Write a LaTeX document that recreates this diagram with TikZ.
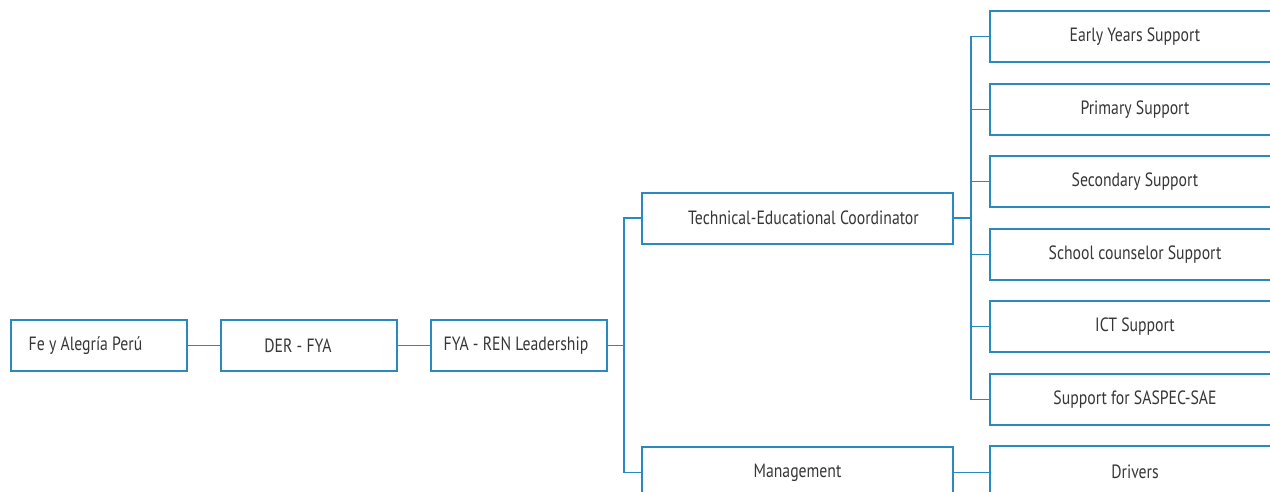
\documentclass[tikz,border=0pt]{standalone}
\usepackage{fontspec}
\newfontfamily\lblfont[FakeStretch=0.82]{PT Sans}
\definecolor{orgblue}{HTML}{2A8AC0}
\definecolor{orgtext}{HTML}{363636}
\begin{document}
\begin{tikzpicture}[x=0.75pt,y=-0.75pt,
  unit/.style={draw=orgblue, line width=1.5pt, rectangle, inner sep=0pt,
    minimum height=38.25pt, text=orgtext, font=\lblfont\fontsize{14.4}{17}\selectfont},
  small/.style={unit, minimum width=132pt},
  wide/.style={unit, minimum width=233.25pt},
  side/.style={unit, minimum width=217.5pt},
  link/.style={draw=orgblue, line width=1.4pt}]
\useasboundingbox (0,0) rectangle (1270,492);
\clip (0,0) rectangle (1270,492);
% main chain
\node[small] (fe)   at (98.5,345.5)  {Fe y Alegría Perú\hspace*{19.5pt}};
\node[small] (der)  at (309,345.5)   {DER - FYA\hspace*{16.5pt}};
\node[small] (fya)  at (519,345.5)   {FYA - REN Leadership\hspace*{4.5pt}};
% second level
\node[wide] (tech) at (797.5,218)   {\hspace*{9pt}Technical-Educational Coordinator};
\node[wide] (mgmt) at (797.5,472.5) {Management};
% support units
\node[side] (early) at (1135,36.5)  {Early Years Support};
\node[side] (prim)  at (1135,109.5) {Primary Support};
\node[side] (sec)   at (1135,181.5) {Secondary Support};
\node[side] (couns) at (1135,254.5) {School counselor Support};
\node[side] (ict)   at (1135,326.5) {ICT Support};
\node[side] (sasp)  at (1135,399.5) {Support for SASPEC-SAE};
\node[side] (drv)   at (1135,471.5) {Drivers};
% junction columns
\coordinate (j1) at (624,0);
\coordinate (j2) at (971,0);
% connectors
\draw[link] (fe.east) -- (der.west);
\draw[link] (der.east) -- (fya.west);
\draw[link] (fya.east) -- (fya.east -| j1) |- (tech.west);
\draw[link] (fya.east -| j1) |- (mgmt.west);
\draw[link] (tech.east) -- (tech.east -| j2);
\foreach \b in {early,prim,sec,couns,ict,sasp}
  \draw[link] (tech.east -| j2) |- (\b.west);
\draw[link] (mgmt.east) -- (mgmt.east -| drv.west);
\end{tikzpicture}
\end{document}
